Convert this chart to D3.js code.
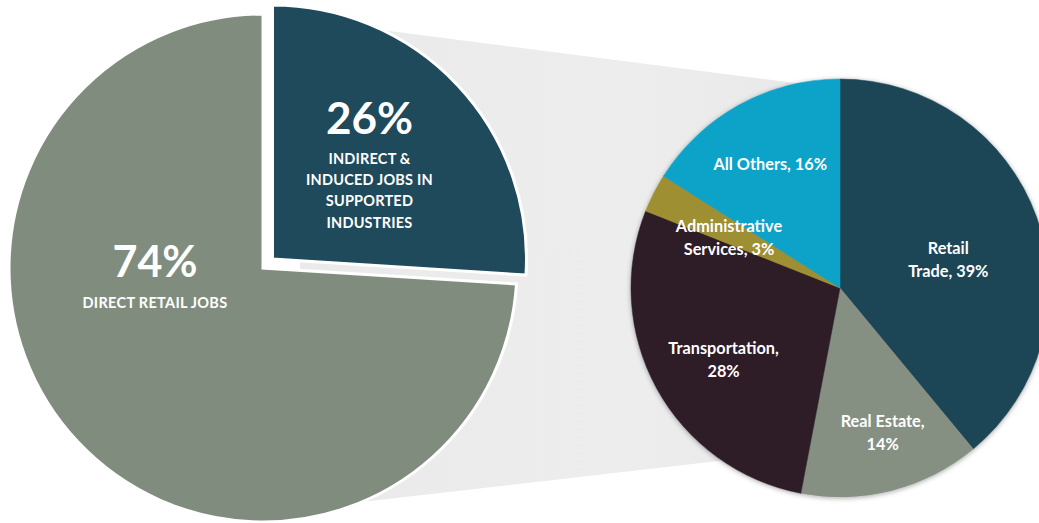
<!DOCTYPE html>
<html>
<head>
<meta charset="utf-8">
<script src="https://cdn.jsdelivr.net/npm/d3@7"></script>
<style>
  html, body { margin: 0; padding: 0; background: #ffffff; }
  svg { display: block; }
  text { font-family: Lato, "Open Sans", "Noto Sans", sans-serif; fill: #ffffff; font-weight: 700; }
</style>
</head>
<body>
<svg id="chart" width="1039" height="523"></svg>
<script>
// ---- Data ----
const mainCategories = ["Indirect & Induced Jobs in Supported Industries", "Direct Retail Jobs"];
const mainValues = [26, 74];
const mainPctLabels = ["26%", "74%"];
const mainSubLabels = [["INDIRECT &", "INDUCED JOBS IN", "SUPPORTED", "INDUSTRIES"], ["DIRECT RETAIL JOBS"]];

const subCategories = ["Retail Trade", "Real Estate", "Transportation", "Administrative Services", "All Others"];
const subValues = [39, 14, 28, 3, 16];
const subLabelLines = [["Retail", "Trade, 39%"], ["Real Estate,", "14%"], ["Transportation,", "28%"], ["Administrative", "Services, 3%"], ["All Others, 16%"]];

// ---- Layout / style ----
const W = 1039, H = 523;
const svg = d3.select("#chart");
const defs = svg.append("defs");
const shadow = defs.append("filter").attr("id", "shadow").attr("x", "-20%").attr("y", "-20%").attr("width", "140%").attr("height", "140%");
shadow.append("feDropShadow").attr("dx", 0).attr("dy", 1).attr("stdDeviation", 2.5).attr("flood-color", "#000").attr("flood-opacity", 0.35);
const grad = defs.append("linearGradient").attr("id", "band").attr("x1", 0).attr("y1", 0).attr("x2", 1).attr("y2", 0);
grad.append("stop").attr("offset", "0%").attr("stop-color", "#eaeaea");
grad.append("stop").attr("offset", "60%").attr("stop-color", "#ededed");
grad.append("stop").attr("offset", "100%").attr("stop-color", "#e8e8e8");

const mainC = { x: 263, y: 268 }, mainR = 254, explode = 13;
const subC = { x: 840, y: 288 }, subR = 209;

const mainColor = d3.scaleOrdinal().domain(mainCategories).range(["#1f4a5c", "#808d7e"]);
const subColor = d3.scaleOrdinal().domain(subCategories).range(["#1f4556", "#858f82", "#2d1f28", "#9e8f33", "#0aa3c9"]);

// connector band (behind everything)
const bandPts = [
  [subC.x - 540, 19.5], [subC.x + 10, 90],
  [subC.x + 10, 446], [subC.x - 540, 509]
];
svg.append("path")
  .attr("d", d3.line()(bandPts) + "Z")
  .attr("fill", "url(#band)");

// ---- Main pie ----
const pie = d3.pie().sort(null).value(d => d).startAngle(0).endAngle(2 * Math.PI);
const mainArcs = pie(mainValues);
const mainArc = d3.arc().innerRadius(0).outerRadius(mainR);

const gMain = svg.append("g").attr("transform", `translate(${mainC.x},${mainC.y})`);
mainArcs.forEach((a, i) => {
  const mid = (a.startAngle + a.endAngle) / 2;
  const off = i === 0 ? explode : 0;
  const dx = Math.sin(mid) * off, dy = -Math.cos(mid) * off;
  gMain.append("path")
    .attr("transform", `translate(${dx},${dy})`)
    .attr("d", mainArc(a))
    .attr("fill", mainColor(mainCategories[i]))
    .attr("stroke", "#ffffff")
    .attr("stroke-width", 3)
    .attr("stroke-linejoin", "miter");
});

// main labels
(function () {
  const a = mainArcs[0];
  const mid = (a.startAngle + a.endAngle) / 2;
  const cx = Math.sin(mid) * explode + 97, cy = -Math.cos(mid) * explode - 125;
  const g = gMain.append("g").attr("transform", `translate(${cx},${cy})`).attr("text-anchor", "middle");
  g.append("text").attr("y", 0).attr("font-size", 44).text(mainPctLabels[0]);
  mainSubLabels[0].forEach((l, j) => {
    g.append("text").attr("y", 30 + j * 21.2).attr("font-size", 14.5).attr("letter-spacing", 0.2).text(l);
  });
})();
(function () {
  const g = gMain.append("g").attr("transform", `translate(${-108},${9})`).attr("text-anchor", "middle");
  g.append("text").attr("y", 0).attr("font-size", 43).text(mainPctLabels[1]);
  mainSubLabels[1].forEach((l, j) => {
    g.append("text").attr("y", 31 + j * 21).attr("font-size", 14.5).attr("letter-spacing", 0.3).text(l);
  });
})();

// ---- Sub pie ----
const subArcs = pie(subValues);
const subArc = d3.arc().innerRadius(0).outerRadius(subR);
const gSub = svg.append("g").attr("transform", `translate(${subC.x},${subC.y})`);
const gSlices = gSub.append("g").attr("filter", "url(#shadow)");
gSlices.selectAll("path").data(subArcs).join("path")
  .attr("d", subArc)
  .attr("fill", (d, i) => subColor(subCategories[i]))
  .attr("stroke", (d, i) => subColor(subCategories[i]))
  .attr("stroke-width", 0.5);

// label placement: angle tweak and distance per slice (layout only)
const labelDist = [112, 151, 137, 122, 142];
const labelAngleShift = [5, -2, -3, -2.5, -0.6];
subArcs.forEach((a, i) => {
  const mid = (a.startAngle + a.endAngle) / 2 + labelAngleShift[i] * Math.PI / 180;
  const x = Math.sin(mid) * labelDist[i], y = -Math.cos(mid) * labelDist[i];
  const lines = subLabelLines[i];
  const lh = 23;
  const g = gSub.append("g").attr("transform", `translate(${x},${y})`).attr("text-anchor", "middle");
  lines.forEach((l, j) => {
    g.append("text")
      .attr("y", (j - (lines.length - 1) / 2) * lh)
      .attr("dy", "0.35em")
      .attr("font-size", 16.3)
      .text(l);
  });
});
</script>
</body>
</html>
